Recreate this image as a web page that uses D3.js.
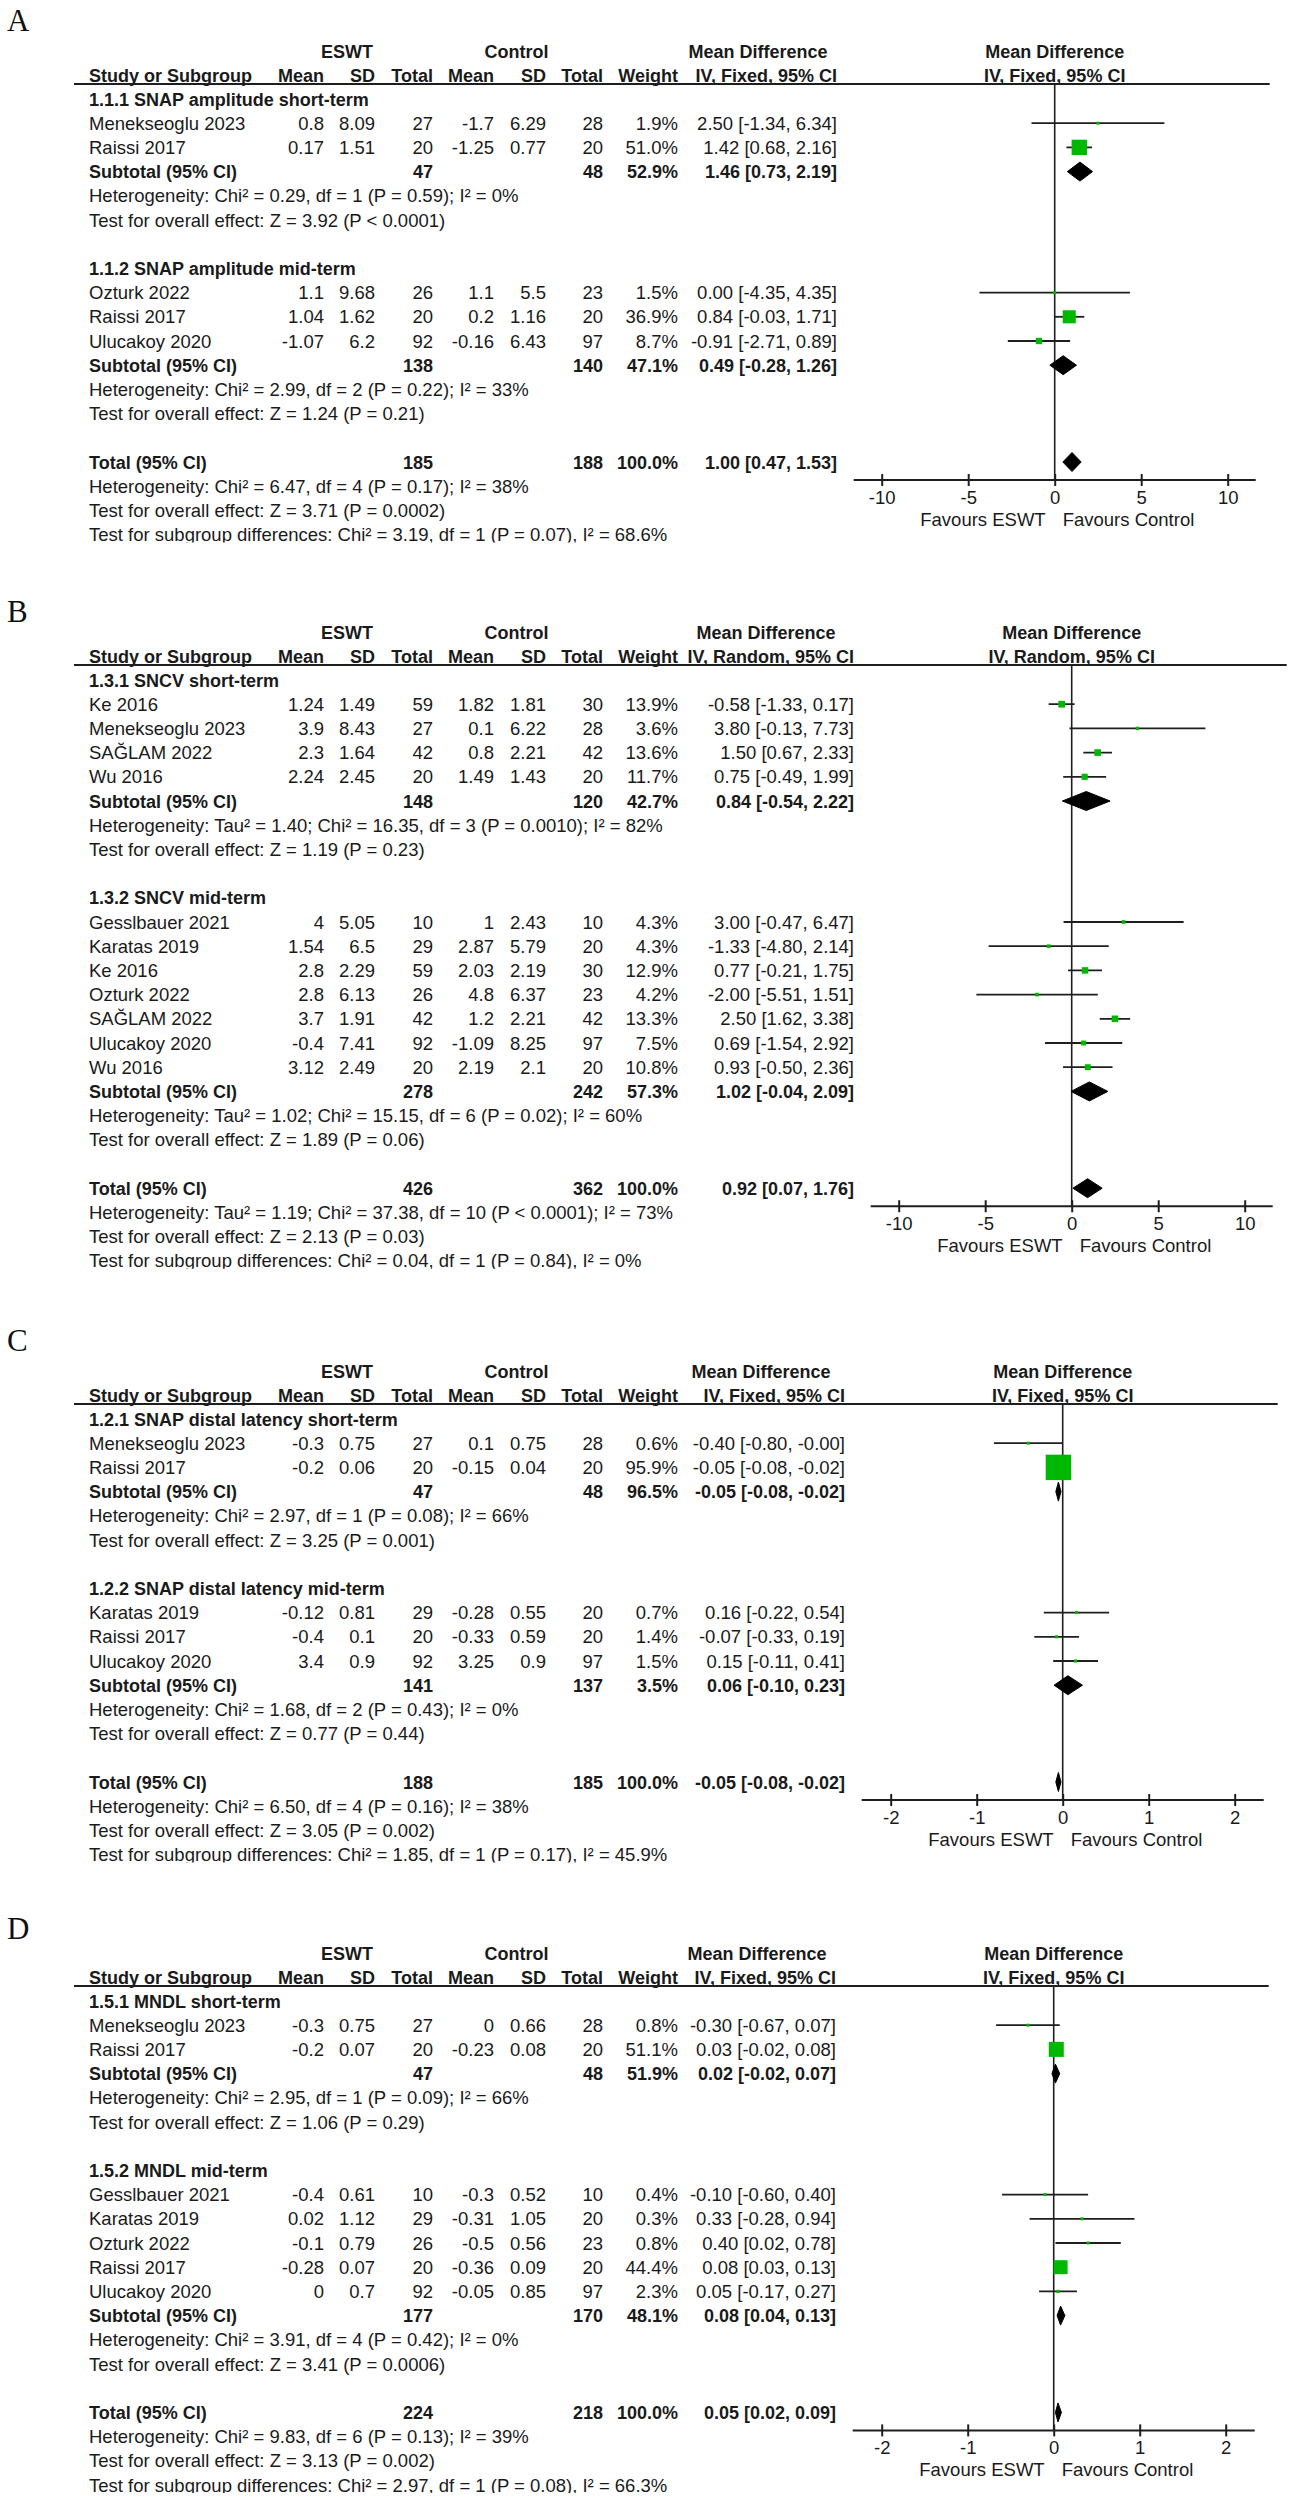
<!DOCTYPE html>
<html><head><meta charset="utf-8">
<script src="https://cdn.jsdelivr.net/npm/d3@7"></script>
<style>
html,body{margin:0;padding:0;background:#fff;}
svg{display:block;}
text{font-family:"Liberation Sans",Arial,Helvetica,sans-serif;font-size:18.5px;fill:#1a1a1a;}
text.b{font-weight:bold;font-size:18px;}
text.letter{font-family:"Liberation Serif","Times New Roman",serif;font-size:31px;fill:#111;}
</style></head><body>
<svg id="chart" width="1294" height="2500"></svg>
<script>
// ---------------- DATA ----------------
// Panel A : SNAP amplitude
const A_method = "IV, Fixed, 95% CI";
const A_ticks = [-10, -5, 0, 5, 10];
const A_groups = ["1.1.1 SNAP amplitude short-term", "1.1.2 SNAP amplitude mid-term"];
const A_studies = [
  {g:0, study:"Menekseoglu 2023", m1:0.8,  sd1:8.09, n1:27, m2:-1.7,  sd2:6.29, n2:28, w:1.9,  md:2.50,  lo:-1.34, hi:6.34},
  {g:0, study:"Raissi 2017",      m1:0.17, sd1:1.51, n1:20, m2:-1.25, sd2:0.77, n2:20, w:51.0, md:1.42,  lo:0.68,  hi:2.16},
  {g:1, study:"Ozturk 2022",      m1:1.1,  sd1:9.68, n1:26, m2:1.1,   sd2:5.5,  n2:23, w:1.5,  md:0.00,  lo:-4.35, hi:4.35},
  {g:1, study:"Raissi 2017",      m1:1.04, sd1:1.62, n1:20, m2:0.2,   sd2:1.16, n2:20, w:36.9, md:0.84,  lo:-0.03, hi:1.71},
  {g:1, study:"Ulucakoy 2020",    m1:-1.07,sd1:6.2,  n1:92, m2:-0.16, sd2:6.43, n2:97, w:8.7,  md:-0.91, lo:-2.71, hi:0.89}
];
const A_subtotals = [
  {n1:47,  n2:48,  w:52.9, md:1.46, lo:0.73,  hi:2.19},
  {n1:138, n2:140, w:47.1, md:0.49, lo:-0.28, hi:1.26}
];
const A_stats = [
  ["Heterogeneity: Chi\u00b2 = 0.29, df = 1 (P = 0.59); I\u00b2 = 0%", "Test for overall effect: Z = 3.92 (P < 0.0001)"],
  ["Heterogeneity: Chi\u00b2 = 2.99, df = 2 (P = 0.22); I\u00b2 = 33%", "Test for overall effect: Z = 1.24 (P = 0.21)"]
];
const A_total = {n1:185, n2:188, w:100.0, md:1.00, lo:0.47, hi:1.53};
const A_totalStats = [
  "Heterogeneity: Chi\u00b2 = 6.47, df = 4 (P = 0.17); I\u00b2 = 38%",
  "Test for overall effect: Z = 3.71 (P = 0.0002)",
  "Test for subgroup differences: Chi\u00b2 = 3.19, df = 1 (P = 0.07), I\u00b2 = 68.6%"
];

// Panel B : SNCV
const B_method = "IV, Random, 95% CI";
const B_ticks = [-10, -5, 0, 5, 10];
const B_groups = ["1.3.1 SNCV short-term", "1.3.2 SNCV mid-term"];
const B_studies = [
  {g:0, study:"Ke 2016",          m1:1.24, sd1:1.49, n1:59, m2:1.82,  sd2:1.81, n2:30, w:13.9, md:-0.58, lo:-1.33, hi:0.17},
  {g:0, study:"Menekseoglu 2023", m1:3.9,  sd1:8.43, n1:27, m2:0.1,   sd2:6.22, n2:28, w:3.6,  md:3.80,  lo:-0.13, hi:7.73},
  {g:0, study:"SA\u011eLAM 2022", m1:2.3,  sd1:1.64, n1:42, m2:0.8,   sd2:2.21, n2:42, w:13.6, md:1.50,  lo:0.67,  hi:2.33},
  {g:0, study:"Wu 2016",          m1:2.24, sd1:2.45, n1:20, m2:1.49,  sd2:1.43, n2:20, w:11.7, md:0.75,  lo:-0.49, hi:1.99},
  {g:1, study:"Gesslbauer 2021",  m1:4,    sd1:5.05, n1:10, m2:1,     sd2:2.43, n2:10, w:4.3,  md:3.00,  lo:-0.47, hi:6.47},
  {g:1, study:"Karatas 2019",     m1:1.54, sd1:6.5,  n1:29, m2:2.87,  sd2:5.79, n2:20, w:4.3,  md:-1.33, lo:-4.80, hi:2.14},
  {g:1, study:"Ke 2016",          m1:2.8,  sd1:2.29, n1:59, m2:2.03,  sd2:2.19, n2:30, w:12.9, md:0.77,  lo:-0.21, hi:1.75},
  {g:1, study:"Ozturk 2022",      m1:2.8,  sd1:6.13, n1:26, m2:4.8,   sd2:6.37, n2:23, w:4.2,  md:-2.00, lo:-5.51, hi:1.51},
  {g:1, study:"SA\u011eLAM 2022", m1:3.7,  sd1:1.91, n1:42, m2:1.2,   sd2:2.21, n2:42, w:13.3, md:2.50,  lo:1.62,  hi:3.38},
  {g:1, study:"Ulucakoy 2020",    m1:-0.4, sd1:7.41, n1:92, m2:-1.09, sd2:8.25, n2:97, w:7.5,  md:0.69,  lo:-1.54, hi:2.92},
  {g:1, study:"Wu 2016",          m1:3.12, sd1:2.49, n1:20, m2:2.19,  sd2:2.1,  n2:20, w:10.8, md:0.93,  lo:-0.50, hi:2.36}
];
const B_subtotals = [
  {n1:148, n2:120, w:42.7, md:0.84, lo:-0.54, hi:2.22},
  {n1:278, n2:242, w:57.3, md:1.02, lo:-0.04, hi:2.09}
];
const B_stats = [
  ["Heterogeneity: Tau\u00b2 = 1.40; Chi\u00b2 = 16.35, df = 3 (P = 0.0010); I\u00b2 = 82%", "Test for overall effect: Z = 1.19 (P = 0.23)"],
  ["Heterogeneity: Tau\u00b2 = 1.02; Chi\u00b2 = 15.15, df = 6 (P = 0.02); I\u00b2 = 60%", "Test for overall effect: Z = 1.89 (P = 0.06)"]
];
const B_total = {n1:426, n2:362, w:100.0, md:0.92, lo:0.07, hi:1.76};
const B_totalStats = [
  "Heterogeneity: Tau\u00b2 = 1.19; Chi\u00b2 = 37.38, df = 10 (P < 0.0001); I\u00b2 = 73%",
  "Test for overall effect: Z = 2.13 (P = 0.03)",
  "Test for subgroup differences: Chi\u00b2 = 0.04, df = 1 (P = 0.84), I\u00b2 = 0%"
];

// Panel C : SNAP distal latency
const C_method = "IV, Fixed, 95% CI";
const C_ticks = [-2, -1, 0, 1, 2];
const C_groups = ["1.2.1 SNAP distal latency short-term", "1.2.2 SNAP distal latency mid-term"];
const C_studies = [
  {g:0, study:"Menekseoglu 2023", m1:-0.3,  sd1:0.75, n1:27, m2:0.1,   sd2:0.75, n2:28, w:0.6,  md:-0.40, lo:-0.80, hi:-0.004},
  {g:0, study:"Raissi 2017",      m1:-0.2,  sd1:0.06, n1:20, m2:-0.15, sd2:0.04, n2:20, w:95.9, md:-0.05, lo:-0.08, hi:-0.02},
  {g:1, study:"Karatas 2019",     m1:-0.12, sd1:0.81, n1:29, m2:-0.28, sd2:0.55, n2:20, w:0.7,  md:0.16,  lo:-0.22, hi:0.54},
  {g:1, study:"Raissi 2017",      m1:-0.4,  sd1:0.1,  n1:20, m2:-0.33, sd2:0.59, n2:20, w:1.4,  md:-0.07, lo:-0.33, hi:0.19},
  {g:1, study:"Ulucakoy 2020",    m1:3.4,   sd1:0.9,  n1:92, m2:3.25,  sd2:0.9,  n2:97, w:1.5,  md:0.15,  lo:-0.11, hi:0.41}
];
const C_subtotals = [
  {n1:47,  n2:48,  w:96.5, md:-0.05, lo:-0.08, hi:-0.02},
  {n1:141, n2:137, w:3.5,  md:0.06,  lo:-0.10, hi:0.23}
];
const C_stats = [
  ["Heterogeneity: Chi\u00b2 = 2.97, df = 1 (P = 0.08); I\u00b2 = 66%", "Test for overall effect: Z = 3.25 (P = 0.001)"],
  ["Heterogeneity: Chi\u00b2 = 1.68, df = 2 (P = 0.43); I\u00b2 = 0%", "Test for overall effect: Z = 0.77 (P = 0.44)"]
];
const C_total = {n1:188, n2:185, w:100.0, md:-0.05, lo:-0.08, hi:-0.02};
const C_totalStats = [
  "Heterogeneity: Chi\u00b2 = 6.50, df = 4 (P = 0.16); I\u00b2 = 38%",
  "Test for overall effect: Z = 3.05 (P = 0.002)",
  "Test for subgroup differences: Chi\u00b2 = 1.85, df = 1 (P = 0.17), I\u00b2 = 45.9%"
];

// Panel D : MNDL
const D_method = "IV, Fixed, 95% CI";
const D_ticks = [-2, -1, 0, 1, 2];
const D_groups = ["1.5.1 MNDL short-term", "1.5.2 MNDL mid-term"];
const D_studies = [
  {g:0, study:"Menekseoglu 2023", m1:-0.3,  sd1:0.75, n1:27, m2:0,     sd2:0.66, n2:28, w:0.8,  md:-0.30, lo:-0.67, hi:0.07},
  {g:0, study:"Raissi 2017",      m1:-0.2,  sd1:0.07, n1:20, m2:-0.23, sd2:0.08, n2:20, w:51.1, md:0.03,  lo:-0.02, hi:0.08},
  {g:1, study:"Gesslbauer 2021",  m1:-0.4,  sd1:0.61, n1:10, m2:-0.3,  sd2:0.52, n2:10, w:0.4,  md:-0.10, lo:-0.60, hi:0.40},
  {g:1, study:"Karatas 2019",     m1:0.02,  sd1:1.12, n1:29, m2:-0.31, sd2:1.05, n2:20, w:0.3,  md:0.33,  lo:-0.28, hi:0.94},
  {g:1, study:"Ozturk 2022",      m1:-0.1,  sd1:0.79, n1:26, m2:-0.5,  sd2:0.56, n2:23, w:0.8,  md:0.40,  lo:0.02,  hi:0.78},
  {g:1, study:"Raissi 2017",      m1:-0.28, sd1:0.07, n1:20, m2:-0.36, sd2:0.09, n2:20, w:44.4, md:0.08,  lo:0.03,  hi:0.13},
  {g:1, study:"Ulucakoy 2020",    m1:0,     sd1:0.7,  n1:92, m2:-0.05, sd2:0.85, n2:97, w:2.3,  md:0.05,  lo:-0.17, hi:0.27}
];
const D_subtotals = [
  {n1:47,  n2:48,  w:51.9, md:0.02, lo:-0.02, hi:0.07},
  {n1:177, n2:170, w:48.1, md:0.08, lo:0.04,  hi:0.13}
];
const D_stats = [
  ["Heterogeneity: Chi\u00b2 = 2.95, df = 1 (P = 0.09); I\u00b2 = 66%", "Test for overall effect: Z = 1.06 (P = 0.29)"],
  ["Heterogeneity: Chi\u00b2 = 3.91, df = 4 (P = 0.42); I\u00b2 = 0%", "Test for overall effect: Z = 3.41 (P = 0.0006)"]
];
const D_total = {n1:224, n2:218, w:100.0, md:0.05, lo:0.02, hi:0.09};
const D_totalStats = [
  "Heterogeneity: Chi\u00b2 = 9.83, df = 6 (P = 0.13); I\u00b2 = 39%",
  "Test for overall effect: Z = 3.13 (P = 0.002)",
  "Test for subgroup differences: Chi\u00b2 = 2.97, df = 1 (P = 0.08), I\u00b2 = 66.3%"
];

const headerCols = ["Mean", "SD", "Total", "Mean", "SD", "Total", "Weight"];
const favours = ["Favours ESWT", "Favours Control"];

// ---------------- LAYOUT ----------------
const W = 1294, H = 2500;
const COLS = [324, 375, 433, 494, 546, 603, 678];
const STUDY_X = 89, LINE_X0 = 74, PITCH = 24.2;
const INK = "#1e1e1e", GREEN = "#00b800";

const panels = [
  {letter:"A", method:A_method, ticks:A_ticks, groups:A_groups, studies:A_studies, subtotals:A_subtotals, stats:A_stats, total:A_total, totalStats:A_totalStats,
   L:84, ciRight:837, mdC:758, letterY:21, half:173, k:2.15},
  {letter:"B", method:B_method, ticks:B_ticks, groups:B_groups, studies:B_studies, subtotals:B_subtotals, stats:B_stats, total:B_total, totalStats:B_totalStats,
   L:665, ciRight:854, mdC:766, letterY:612, half:173, k:1.8},
  {letter:"C", method:C_method, ticks:C_ticks, groups:C_groups, studies:C_studies, subtotals:C_subtotals, stats:C_stats, total:C_total, totalStats:C_totalStats,
   L:1404, ciRight:845, mdC:761, letterY:1341, half:172, k:2.6},
  {letter:"D", method:D_method, ticks:D_ticks, groups:D_groups, studies:D_studies, subtotals:D_subtotals, stats:D_stats, total:D_total, totalStats:D_totalStats,
   L:1986, ciRight:836, mdC:757, letterY:1929, half:172, k:2.1}
];

const svg = d3.select("#chart");
svg.append("rect").attr("width", W).attr("height", H).attr("fill", "#fff");
const defs = svg.append("defs");

const f2 = v => v.toFixed(2);
const ciStr = d => `${f2(d.md)} [${f2(d.lo)}, ${f2(d.hi)}]`;
const wStr = w => w.toFixed(1) + "%";

function txt(g, x, y, s, anchor, bold, cls) {
  return g.append("text").attr("x", x).attr("y", y)
    .attr("text-anchor", anchor || "start")
    .attr("class", (bold ? "b " : "") + (cls || ""))
    .text(s);
}

panels.forEach(p => {
  const L = p.L;
  const zero = p.ciRight + 217.7;
  const x = d3.scaleLinear()
    .domain([p.ticks[0], p.ticks[p.ticks.length - 1]])
    .range([zero - p.half, zero + p.half]);
  const rowC = i => L + 15 + PITCH * i;
  const base = i => rowC(i) + 6.5;

  const rows = [];
  p.groups.forEach((title, gi) => {
    rows.push({type:"group", text:title});
    p.studies.filter(s => s.g === gi).forEach(s => rows.push({type:"study", d:s}));
    rows.push({type:"subtotal", d:p.subtotals[gi]});
    p.stats[gi].forEach(t => rows.push({type:"note", text:t}));
    rows.push({type:"blank"});
  });
  const totalIdx = rows.length;
  rows.push({type:"total", d:p.total});
  p.totalStats.forEach(t => rows.push({type:"note", text:t}));

  const top = p.letterY - 30;
  const bottom = base(rows.length - 1) + 1.5;
  const cid = "clip" + p.letter;
  defs.append("clipPath").attr("id", cid).append("rect")
    .attr("x", 0).attr("y", top).attr("width", W).attr("height", bottom - top);

  const g = svg.append("g").attr("clip-path", `url(#${cid})`);

  txt(g, 7, p.letterY + 10, p.letter, "start", false, "letter");

  txt(g, 347, L - 26.5, "ESWT", "middle", true);
  txt(g, 516.5, L - 26.5, "Control", "middle", true);
  txt(g, p.mdC, L - 26.5, "Mean Difference", "middle", true);
  txt(g, zero, L - 26.5, "Mean Difference", "middle", true);
  txt(g, STUDY_X, L - 2.5, "Study or Subgroup", "start", true);
  headerCols.forEach((h, i) => txt(g, COLS[i], L - 2.5, h, "end", true));
  txt(g, p.ciRight, L - 2.5, p.method, "end", true);
  txt(g, zero, L - 2.5, p.method, "middle", true);

  g.append("line").attr("x1", LINE_X0).attr("x2", zero + 215)
    .attr("y1", L).attr("y2", L).attr("stroke", INK).attr("stroke-width", 2);

  const axisY = rowC(totalIdx) + 18;

  g.append("line").attr("x1", x(0)).attr("x2", x(0))
    .attr("y1", L).attr("y2", axisY).attr("stroke", INK).attr("stroke-width", 1.6);

  const diamond = (d, cy) => {
    const hh = 9.5;
    g.append("path")
      .attr("d", `M${x(d.lo)},${cy} L${x(d.md)},${cy - hh} L${x(d.hi)},${cy} L${x(d.md)},${cy + hh} Z`)
      .attr("fill", "#000").attr("stroke", "#000").attr("stroke-width", 1);
  };

  rows.forEach((r, i) => {
    const y = base(i), cy = rowC(i);
    if (r.type === "group") {
      txt(g, STUDY_X, y, r.text, "start", true);
    } else if (r.type === "note") {
      txt(g, STUDY_X, y, r.text, "start", false);
    } else if (r.type === "study") {
      const d = r.d;
      txt(g, STUDY_X, y, d.study);
      [d.m1, d.sd1, d.n1, d.m2, d.sd2, d.n2].forEach((v, j) => txt(g, COLS[j], y, String(v), "end"));
      txt(g, COLS[6], y, wStr(d.w), "end");
      txt(g, p.ciRight, y, ciStr(d), "end");
      g.append("line").attr("x1", x(d.lo)).attr("x2", x(d.hi))
        .attr("y1", cy).attr("y2", cy).attr("stroke", INK).attr("stroke-width", 1.8);
      const s = Math.max(3, p.k * Math.sqrt(d.w));
      g.append("rect").attr("x", x(d.md) - s / 2).attr("y", cy - s / 2)
        .attr("width", s).attr("height", s).attr("fill", GREEN);
    } else if (r.type === "subtotal" || r.type === "total") {
      const d = r.d;
      txt(g, STUDY_X, y, r.type === "subtotal" ? "Subtotal (95% CI)" : "Total (95% CI)", "start", true);
      txt(g, COLS[2], y, String(d.n1), "end", true);
      txt(g, COLS[5], y, String(d.n2), "end", true);
      txt(g, COLS[6], y, wStr(d.w), "end", true);
      txt(g, p.ciRight, y, ciStr(d), "end", true);
      diamond(d, cy);
    }
  });

  const ax = g.append("g").attr("transform", `translate(0,${axisY})`)
    .call(d3.axisBottom(x).tickValues(p.ticks).tickFormat(d => String(d)).tickSizeOuter(0));
  ax.select(".domain").remove();
  ax.attr("font-size", null).attr("font-family", null);
  ax.selectAll(".tick line").attr("y1", -6).attr("y2", 6).attr("stroke", INK).attr("stroke-width", 2);
  ax.selectAll(".tick text").attr("y", 23.5).attr("dy", null).attr("fill", INK);
  g.append("line").attr("x1", zero - 201).attr("x2", zero + 201)
    .attr("y1", axisY).attr("y2", axisY).attr("stroke", INK).attr("stroke-width", 2);

  txt(g, x(0) - 9, axisY + 46, favours[0], "end");
  txt(g, x(0) + 8, axisY + 46, favours[1], "start");
});
</script>
</body></html>
